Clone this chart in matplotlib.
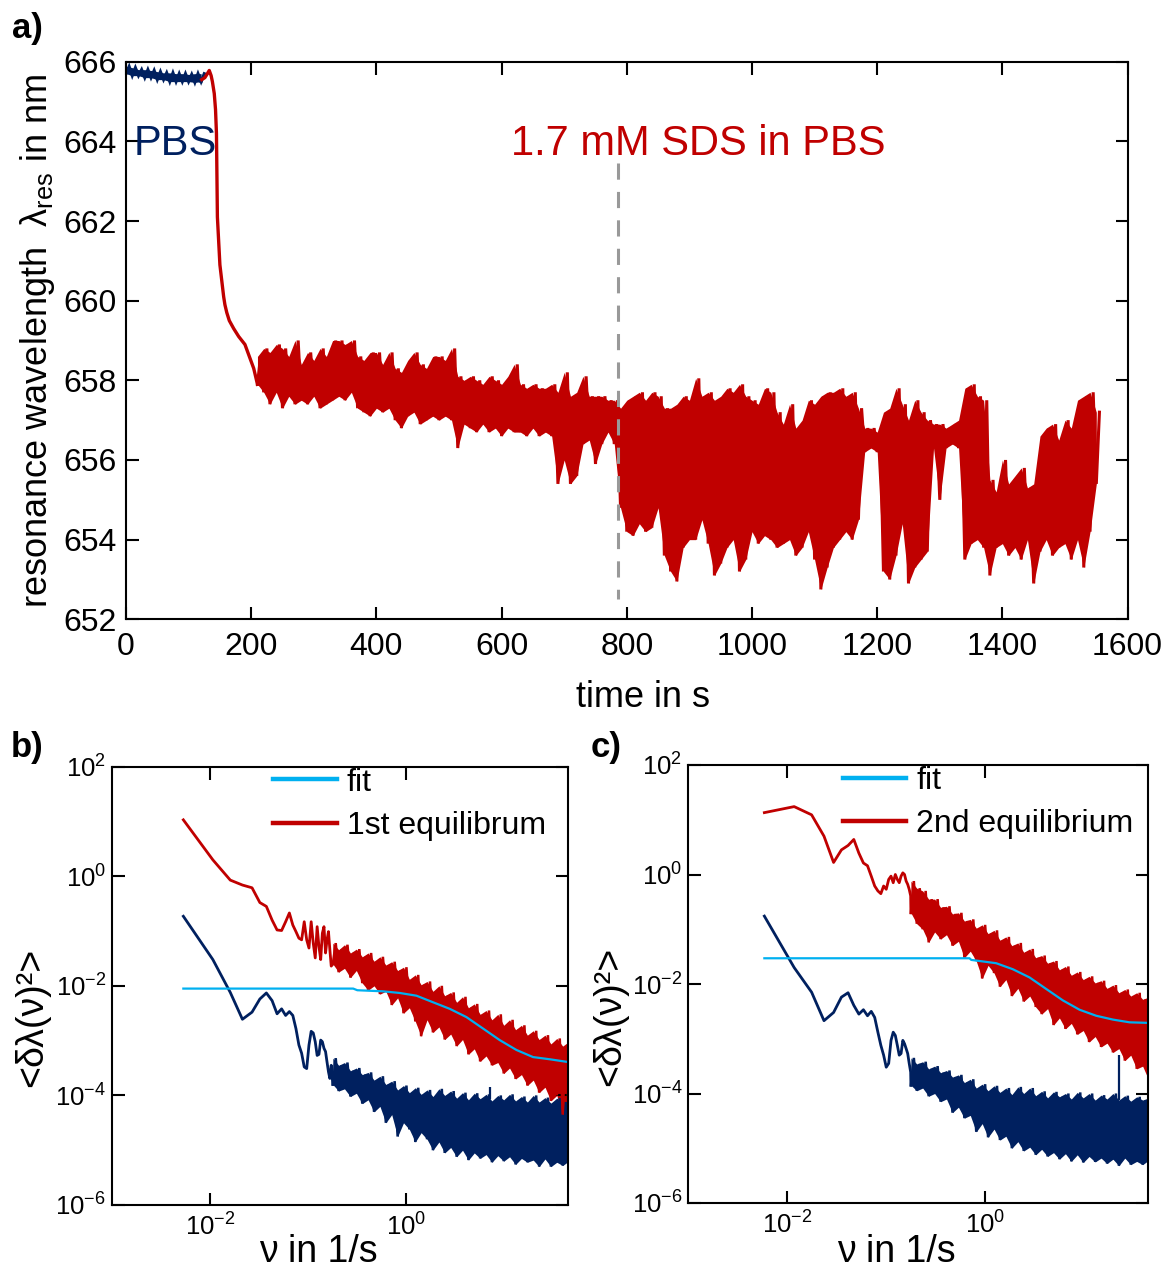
import numpy as np
import matplotlib
matplotlib.use("Agg")
import matplotlib.pyplot as plt

plt.rcParams.update({
    "font.family": ["Liberation Sans", "DejaVu Sans"],
    "mathtext.fontset": "custom",
    "mathtext.rm": "Liberation Sans",
    "mathtext.it": "Liberation Sans:italic",
    "mathtext.bf": "Liberation Sans:bold",
    "axes.unicode_minus": False,
})

RED = "#c00000"
NAVY = "#00205f"
CYAN = "#00b0f0"
GREY = "#999999"

# ---------------- (a) resonance wavelength vs time ----------------
# PBS baseline: lower / upper extent of the trace in 10 s bins
pbs_t = [0, 10, 20, 30, 40, 50, 60, 70, 80, 90, 100, 110, 120]
pbs_lo = [665.70, 665.65, 665.65, 665.60, 665.60, 665.55, 665.55, 665.50,
          665.50, 665.50, 665.50, 665.48, 665.50]
pbs_hi = [665.88, 665.85, 665.80, 665.80, 665.78, 665.75, 665.72, 665.72,
          665.70, 665.70, 665.68, 665.70, 665.70]

# shift after the SDS solution arrives
drop_t = [121, 126, 130, 133, 136, 138, 141, 143, 144.5, 146, 148, 150, 153,
          156, 158, 161, 165, 172, 180, 190, 197, 204]
drop_y = [665.55, 665.60, 665.70, 665.78, 665.65, 665.50, 665.20, 664.80,
          664.20, 662.10, 661.50, 660.90, 660.50, 660.10, 659.90, 659.70,
          659.50, 659.30, 659.10, 658.90, 658.60, 658.30]

# noisy SDS trace: lower / upper extent in 10 s bins
band_t = [210, 220, 230, 240, 250, 260, 270, 280, 290, 300, 310, 320, 330,
          340, 350, 360, 370, 380, 390, 400, 410, 420, 430, 440, 450, 460,
          470, 480, 490, 500, 510, 520, 530, 540, 550, 560, 570, 580, 590,
          600, 610, 620, 630, 640, 650, 660, 670, 680, 690, 700, 710, 720,
          730, 740, 750, 760, 770, 780, 790, 800, 810, 820, 830, 840, 850,
          860, 870, 880, 890, 900, 910, 920, 930, 940, 950, 960, 970, 980,
          990, 1000, 1010, 1020, 1030, 1040, 1050, 1060, 1070, 1080, 1090,
          1100, 1110, 1120, 1130, 1140, 1150, 1160, 1170, 1180, 1190, 1200,
          1210, 1220, 1230, 1240, 1250, 1260, 1270, 1280, 1290, 1300, 1310,
          1320, 1330, 1340, 1350, 1360, 1370, 1380, 1390, 1400, 1410, 1420,
          1430, 1440, 1450, 1460, 1470, 1480, 1490, 1500, 1510, 1520, 1530,
          1540, 1550]
band_lo = [657.9, 657.7, 657.4, 657.7, 657.3, 657.6, 657.4, 657.5, 657.4,
           657.6, 657.3, 657.4, 657.5, 657.6, 657.5, 657.7, 657.3, 657.2,
           657.1, 657.3, 657.2, 657.3, 657.0, 656.8, 657.1, 657.2, 656.9,
           657.0, 657.1, 657.0, 657.1, 657.0, 656.3, 656.9, 656.8, 656.7,
           656.9, 656.7, 656.8, 656.6, 656.8, 656.7, 656.7, 656.6, 656.8,
           656.6, 656.7, 656.6, 655.4, 656.0, 655.4, 655.6, 656.4, 656.5,
           655.9, 656.4, 656.7, 656.4, 654.8, 654.2, 654.1, 654.4, 654.2,
           654.3, 654.8, 653.6, 653.2, 652.95, 653.8, 654.0, 654.0, 654.5,
           653.9, 653.1, 653.4, 653.8, 654.0, 653.2, 653.5, 654.2, 653.9,
           654.1, 654.0, 653.8, 653.9, 654.0, 653.6, 653.8, 654.2, 653.5,
           652.75, 653.3, 653.8, 654.0, 654.2, 654.0, 654.5, 656.2, 656.3,
           656.2, 653.2, 653.0, 653.6, 654.4, 652.9, 653.3, 653.5, 653.7,
           656.3, 655.0, 656.3, 656.4, 656.3, 653.5, 653.9, 654.0, 653.8,
           653.1, 653.8, 653.9, 653.6, 653.8, 653.5, 654.0, 652.9, 653.7,
           654.0, 653.6, 653.8, 653.9, 653.5, 654.0, 653.3, 654.2, 655.4]
band_hi = [658.6, 658.8, 658.7, 658.9, 658.8, 658.6, 659.0, 658.4, 658.7,
           658.5, 658.8, 658.6, 659.0, 659.0, 658.9, 659.0, 658.6, 658.5,
           658.7, 658.7, 658.4, 658.7, 658.3, 658.2, 658.5, 658.7, 658.4,
           658.3, 658.6, 658.6, 658.5, 658.8, 658.1, 658.0, 658.1, 658.0,
           657.9, 658.1, 658.0, 657.9, 658.1, 658.4, 657.9, 657.8, 657.9,
           657.8, 657.8, 657.9, 657.7, 658.2, 657.6, 657.7, 658.1, 657.6,
           657.6, 657.6, 657.5, 657.5, 657.3, 657.5, 657.6, 657.7, 657.5,
           657.7, 657.6, 657.3, 657.3, 657.4, 657.6, 657.5, 658.05, 657.6,
           657.7, 657.5, 657.6, 657.8, 657.7, 657.9, 657.6, 657.5, 657.4,
           657.8, 657.7, 657.2, 656.9, 657.4, 656.8, 657.0, 657.5, 657.4,
           657.6, 657.7, 657.7, 657.8, 657.6, 657.7, 657.3, 656.8, 656.8,
           656.7, 657.2, 657.3, 657.8, 657.4, 657.0, 657.5, 657.2, 657.0,
           656.9, 656.9, 656.8, 656.9, 657.0, 657.8, 657.9, 657.6, 657.5,
           655.5, 655.2, 656.0, 655.4, 655.6, 655.8, 655.3, 655.4, 656.6,
           656.8, 656.9, 656.5, 657.0, 656.8, 657.5, 657.6, 657.7, 657.2]

sds_injection_time = 786
time_ticks = [0, 200, 400, 600, 800, 1000, 1200, 1400, 1600]
wavelength_ticks = [652, 654, 656, 658, 660, 662, 664, 666]

# ---------------- (b), (c) noise spectra ----------------
# lowest spectral lines (1/s) and their log10 power
nu_b_lf = [0.00536, 0.0107, 0.0161, 0.0214, 0.0268, 0.0322, 0.0375, 0.0429,
           0.0482, 0.0536, 0.0589, 0.0643, 0.0697, 0.0750, 0.0804, 0.0857,
           0.0911, 0.0965, 0.1018, 0.1072, 0.1125, 0.1179, 0.1233, 0.1286,
           0.1340, 0.1393, 0.1447, 0.1501, 0.1554, 0.1608, 0.1661, 0.1715]
red_b_lf = [1.03, 0.30, -0.07, -0.16, -0.21, -0.48, -0.55, -0.80, -0.98,
            -0.99, -0.83, -0.67, -0.89, -1.01, -1.13, -1.16, -0.83, -1.16,
            -1.31, -0.83, -1.22, -1.49, -0.92, -1.28, -1.52, -1.04, -0.92,
            -1.40, -1.16, -1.01, -1.34, -1.64]
navy_b_lf = [-0.73, -1.52, -2.12, -2.61, -2.48, -2.24, -2.13, -2.27, -2.51,
             -2.42, -2.54, -2.47, -2.54, -2.78, -3.08, -3.23, -3.48, -3.51,
             -3.08, -2.83, -2.86, -3.02, -3.27, -3.25, -2.99, -3.02, -3.14,
             -3.20, -3.39, -3.57, -3.69, -3.45]

nu_c_lf = [0.0059, 0.0118, 0.0177, 0.0236, 0.0295, 0.0354, 0.0413, 0.0472,
           0.0531, 0.0590, 0.0649, 0.0708, 0.0767, 0.0826, 0.0885, 0.0944,
           0.1003, 0.1062, 0.1121, 0.1180, 0.1239, 0.1298, 0.1357, 0.1416,
           0.1475, 0.1534, 0.1593, 0.1652, 0.1711, 0.1770]
red_c_lf = [1.13, 1.24, 1.09, 0.70, 0.22, 0.45, 0.53, 0.64, 0.39, 0.21, 0.16,
            -0.03, -0.21, -0.30, -0.35, -0.21, -0.27, -0.09, -0.03, -0.15,
            0.00, -0.09, -0.15, -0.03, 0.03, 0.00, -0.12, -0.18, -0.27, -0.39]
navy_c_lf = [-0.76, -1.70, -2.15, -2.67, -2.52, -2.24, -2.16, -2.39, -2.55,
             -2.47, -2.58, -2.50, -2.61, -2.88, -3.12, -3.30, -3.52, -3.45,
             -3.03, -2.88, -2.94, -3.12, -3.30, -3.27, -3.03, -3.09, -3.18,
             -3.27, -3.45, -3.61]

# dense high-frequency part: log10 power, lower / upper extent per band
nu_hf = [0.178, 0.204, 0.234, 0.269, 0.309, 0.355, 0.407, 0.468, 0.537,
         0.617, 0.708, 0.813, 0.933, 1.07, 1.23, 1.41, 1.62, 1.86, 2.14,
         2.45, 2.82, 3.24, 3.72, 4.27, 4.90, 5.62, 6.46, 7.41, 8.51, 9.77,
         11.2, 12.9, 14.8, 17.0, 19.5, 22.4, 25.7, 29.5, 33.9, 38.9, 44.7]

red_b_hi = [-1.22, -1.34, -1.25, -1.40, -1.33, -1.47, -1.40, -1.55, -1.47,
            -1.62, -1.56, -1.72, -1.66, -1.88, -1.80, -1.98, -1.92, -2.10,
            -2.00, -2.18, -2.12, -2.30, -2.20, -2.40, -2.33, -2.52, -2.45,
            -2.62, -2.52, -2.72, -2.62, -2.80, -2.72, -2.90, -2.82, -2.98,
            -2.90, -3.06, -2.96, -3.10, -3.02]
red_b_lo = [-1.60, -1.75, -1.68, -1.85, -1.72, -1.95, -2.08, -2.00, -2.15,
            -2.10, -2.35, -2.22, -2.50, -2.40, -2.65, -2.92, -2.62, -2.85,
            -2.75, -2.98, -2.88, -3.10, -2.98, -3.25, -3.15, -3.38, -3.28,
            -3.45, -3.40, -3.60, -3.50, -3.70, -3.62, -3.82, -3.72, -3.95,
            -3.85, -4.10, -4.00, -4.35, -4.25]
navy_b_hi = [-3.32, -3.45, -3.40, -3.55, -3.50, -3.62, -3.58, -3.72, -3.65,
             -3.80, -3.74, -3.90, -3.82, -3.95, -3.86, -3.98, -3.90, -4.02,
             -3.88, -4.00, -3.92, -4.05, -3.95, -4.08, -3.96, -4.06, -3.98,
             -4.10, -4.00, -4.08, -3.98, -4.10, -4.02, -4.12, -4.00, -4.12,
             -4.04, -4.14, -4.05, -4.12, -4.08]
navy_b_lo = [-3.80, -3.92, -3.88, -4.02, -3.96, -4.15, -4.08, -4.30, -4.20,
             -4.50, -4.35, -4.75, -4.50, -4.62, -4.85, -4.68, -4.80, -5.00,
             -4.85, -5.05, -4.95, -5.12, -5.00, -5.18, -5.05, -5.15, -5.08,
             -5.22, -5.10, -5.20, -5.12, -5.26, -5.15, -5.22, -5.18, -5.30,
             -5.16, -5.30, -5.22, -5.28, -5.20]

red_c_hi = [-0.12, -0.25, -0.30, -0.45, -0.45, -0.60, -0.58, -0.72, -0.70,
            -0.85, -0.82, -0.98, -0.92, -1.08, -1.02, -1.20, -1.14, -1.30,
            -1.25, -1.42, -1.36, -1.52, -1.48, -1.62, -1.58, -1.74, -1.68,
            -1.84, -1.78, -1.92, -1.86, -1.98, -1.94, -2.08, -2.02, -2.16,
            -2.10, -2.22, -2.16, -2.28, -2.24]
red_c_lo = [-0.70, -0.90, -1.00, -1.24, -1.05, -1.18, -1.10, -1.30, -1.22,
            -1.52, -1.40, -1.58, -1.90, -1.66, -1.80, -2.05, -1.92, -2.22,
            -2.08, -2.32, -2.22, -2.42, -2.55, -2.45, -2.75, -2.62, -2.82,
            -2.72, -2.92, -2.85, -3.06, -2.96, -3.15, -3.08, -3.25, -3.18,
            -3.40, -3.30, -3.55, -3.50, -3.75]
navy_c_hi = [-3.35, -3.46, -3.42, -3.55, -3.50, -3.62, -3.58, -3.70, -3.66,
             -3.80, -3.74, -3.90, -3.83, -3.95, -3.86, -3.98, -3.90, -4.02,
             -3.88, -4.00, -3.90, -4.04, -3.96, -4.08, -3.97, -4.06, -4.00,
             -4.10, -3.98, -4.08, -4.00, -4.12, -4.03, -4.10, -4.00, -4.12,
             -4.04, -4.14, -4.06, -4.12, -4.08]
navy_c_lo = [-3.85, -3.95, -3.90, -4.05, -4.00, -4.15, -4.10, -4.35, -4.25,
             -4.45, -4.40, -4.70, -4.55, -4.80, -4.65, -4.85, -4.78, -5.00,
             -4.88, -5.05, -4.98, -5.12, -5.02, -5.15, -5.08, -5.20, -5.10,
             -5.24, -5.12, -5.26, -5.15, -5.25, -5.18, -5.28, -5.20, -5.32,
             -5.18, -5.30, -5.24, -5.30, -5.22]

# isolated spectral spikes rising out of the navy noise floor (log10 power)
navy_b_spike_nu = [7.1]
navy_b_spike_top = [-3.84]
navy_c_spike_nu = [22.4]
navy_c_spike_top = [-3.30]

# fitted spectra (log10 power)
fit_b_nu = [0.00536, 0.287, 0.316, 0.579, 0.855, 1.265, 1.866, 2.761, 4.074,
            6.026, 8.892, 13.15, 19.41, 28.71, 44.0]
fit_b_log = [-2.05, -2.05, -2.08, -2.10, -2.13, -2.18, -2.30, -2.42, -2.57,
             -2.78, -2.99, -3.17, -3.30, -3.34, -3.39]
fit_c_nu = [0.0059, 0.695, 0.724, 0.877, 1.291, 1.901, 2.805, 4.130, 6.095,
            8.974, 13.21, 19.50, 28.71, 44.0]
fit_c_log = [-1.53, -1.53, -1.56, -1.58, -1.62, -1.73, -1.88, -2.09, -2.30,
             -2.47, -2.58, -2.65, -2.70, -2.71]

spec_xticks = [1e-2, 1e0]
spec_yticks = [1e-6, 1e-4, 1e-2, 1e0, 1e2]


def zigzag(x, lo, hi, x_mid):
    """Alternate between lower and upper extent: texture of a dense noisy trace."""
    xs = np.column_stack([np.asarray(x, float), np.asarray(x_mid, float)]).ravel()
    ys = np.column_stack([np.asarray(lo, float), np.asarray(hi, float)]).ravel()
    return xs, ys


def log_midpoints(x):
    x = np.asarray(x, float)
    mids = np.sqrt(x[:-1] * x[1:])
    return np.append(mids, x[-1] * np.sqrt(x[-1] / x[-2]))


def noisy_band(ax, x, lo, hi, x_mid, color, lw):
    """Filled envelope of a dense trace plus a zigzag line for its spikes."""
    ax.fill_between(x, lo, hi, color=color, lw=0)
    zx, zy = zigzag(x, lo, hi, x_mid)
    ax.plot(zx, zy, color=color, lw=lw, solid_joinstyle="miter")


def style_axes(ax, xpad, ypad):
    for s in ax.spines.values():
        s.set_linewidth(1.5)
    ax.tick_params(which="both", direction="in", top=True, right=True,
                   length=9, width=1.5)
    ax.tick_params(axis="x", pad=xpad)
    ax.tick_params(axis="y", pad=ypad)


fig = plt.figure(figsize=(11.71, 12.79), dpi=100)

# ---- panel a ----
ax_a = fig.add_axes([126 / 1171, 1 - 619.3 / 1279, 1001.6 / 1171, 557.6 / 1279])
noisy_band(ax_a, pbs_t, pbs_lo, pbs_hi, np.asarray(pbs_t) + 5, NAVY, 2.2)
ax_a.plot([pbs_t[-1], drop_t[0]], [pbs_lo[-1], drop_y[0]], color=NAVY, lw=2.2)
ax_a.plot(np.concatenate([drop_t, band_t[:1]]),
          np.concatenate([drop_y, band_lo[:1]]), color=RED, lw=2.4)
noisy_band(ax_a, band_t, band_lo, band_hi, np.asarray(band_t) + 5, RED, 2.2)
ax_a.plot([sds_injection_time, sds_injection_time], [663.45, 652.5],
          color=GREY, lw=2.2, dashes=(5.3, 4))
ax_a.text(12.8, 663.67, "PBS", color=NAVY, fontsize=30, ha="left", va="baseline")
ax_a.text(615, 663.67, "1.7 mM SDS in PBS", color=RED, fontsize=30,
          ha="left", va="baseline")
ax_a.set_xlim(0, 1600)
ax_a.set_ylim(652, 666)
ax_a.set_xticks(time_ticks)
ax_a.set_yticks(wavelength_ticks)
ax_a.tick_params(labelsize=23)
style_axes(ax_a, xpad=9, ypad=7)
ax_a.set_xlabel("time in s", fontsize=26)
ax_a.set_ylabel("resonance wavelength  λ$_{\\rm res}$ in nm", fontsize=26)
ax_a.xaxis.set_label_coords(0.5157, -0.108)
ax_a.yaxis.set_label_coords(-0.069, 0.50)


def spectrum_panel(rect, nu_lf, red_lf, navy_lf, red_hi, red_lo, navy_hi,
                   navy_lo, spike_nu, spike_top, fit_nu, fit_log, red_label,
                   legend_x, ylab_x, ylab_y, xlab_y):
    ax = fig.add_axes(rect)
    ax.set_xscale("log")
    ax.set_yscale("log")
    mids = log_midpoints(nu_hf)
    ax.plot(np.append(nu_lf, nu_hf[0]), 10 ** np.append(navy_lf, navy_lo[0]),
            color=NAVY, lw=2.0)
    noisy_band(ax, nu_hf, 10 ** np.asarray(navy_lo), 10 ** np.asarray(navy_hi),
               mids, NAVY, 1.8)
    ax.vlines(spike_nu, 10 ** np.interp(np.log10(spike_nu), np.log10(nu_hf),
                                        navy_hi),
              10 ** np.asarray(spike_top), color=NAVY, lw=1.6)
    red_line, = ax.plot(np.append(nu_lf, nu_hf[0]),
                        10 ** np.append(red_lf, red_lo[0]), color=RED, lw=2.0,
                        label=red_label)
    noisy_band(ax, nu_hf, 10 ** np.asarray(red_lo), 10 ** np.asarray(red_hi),
               mids, RED, 1.8)
    fit_line, = ax.plot(fit_nu, 10 ** np.asarray(fit_log), color=CYAN, lw=1.6,
                        label="fit")
    ax.set_xlim(1e-3, 10 ** 1.644)
    ax.set_ylim(1e-6, 1e2)
    ax.set_xticks(spec_xticks)
    ax.set_yticks(spec_yticks)
    ax.minorticks_off()
    ax.tick_params(labelsize=18.5)
    style_axes(ax, xpad=6, ypad=4)
    leg = ax.legend(handles=[fit_line, red_line], loc="upper left",
                    bbox_to_anchor=(legend_x, 0.998), frameon=False,
                    fontsize=23, borderaxespad=0, borderpad=0,
                    handlelength=2.0, handletextpad=0.3, labelspacing=0.42)
    for ln in leg.get_lines():
        ln.set_linewidth(3.2)
    ax.set_xlabel("ν in 1/s", fontsize=27)
    ax.set_ylabel("<δλ(ν)²>", fontsize=27)
    ax.xaxis.set_label_coords(0.452, xlab_y)
    ax.yaxis.set_label_coords(ylab_x, ylab_y)
    return ax


spectrum_panel([111.7 / 1171, 1 - 1205 / 1279, 456.3 / 1171, 438.3 / 1279],
               nu_b_lf, red_b_lf, navy_b_lf, red_b_hi, red_b_lo, navy_b_hi,
               navy_b_lo, navy_b_spike_nu, navy_b_spike_top, fit_b_nu,
               fit_b_log, "1st equilibrum", 0.354, -0.135, 0.429, -0.066)
spectrum_panel([688 / 1171, 1 - 1203 / 1279, 460 / 1171, 438 / 1279],
               nu_c_lf, red_c_lf, navy_c_lf, red_c_hi, red_c_lo, navy_c_hi,
               navy_c_lo, navy_c_spike_nu, navy_c_spike_top, fit_c_nu,
               fit_c_log, "2nd equilibrium", 0.336, -0.13, 0.425, -0.070)

fig.text(12 / 1171, 1 - 38 / 1279, "a)", fontsize=25, fontweight="bold")
fig.text(11 / 1171, 1 - 757 / 1279, "b)", fontsize=25, fontweight="bold")
fig.text(591 / 1171, 1 - 757 / 1279, "c)", fontsize=25, fontweight="bold")

fig.savefig("out.png", dpi=100)
